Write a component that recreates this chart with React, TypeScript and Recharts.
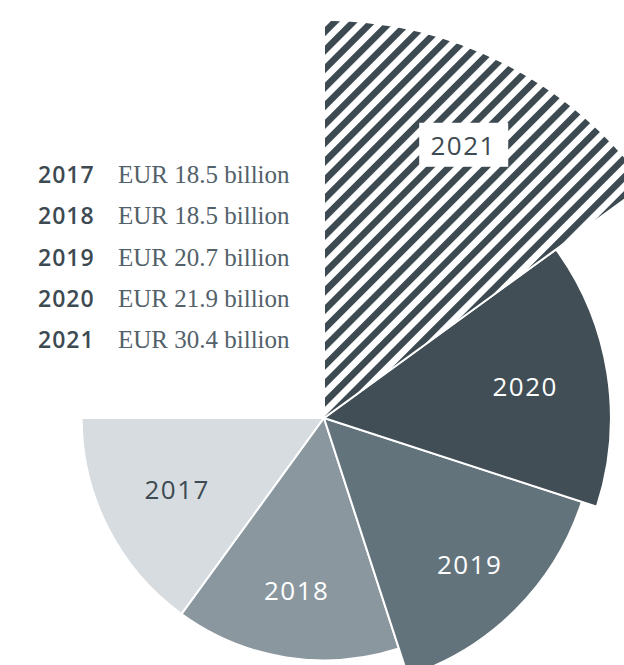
import React from "react";
import { PieChart, Pie, Cell } from "recharts";

// financing volume per year
const years = ["2017", "2018", "2019", "2020", "2021"];
const values = [18.5, 18.5, 20.7, 21.9, 30.4];
const legendTexts = ["EUR 18.5 billion", "EUR 18.5 billion", "EUR 20.7 billion", "EUR 21.9 billion", "EUR 30.4 billion"];

const colors = ["#d7dce0", "#8a979f", "#63737c", "#414e56", "url(#hatch2021)"];
const labelColors = ["#3d4a52", "#ffffff", "#ffffff", "#ffffff", "#3d4a52"];
// how far out (as a share of the slice radius) each label sits
const labelDepth = [0.68, 0.72, 0.76, 0.71, 0.77];

const PX_PER_BILLION = 13.1;
const CX = 324;
const CY = 418;
const RADIAN = Math.PI / 180;

const sliceData = years.map((y) => ({ name: y, share: 1 }));

const makeLabel = (i: number) => (props: any) => {
    if (props.index !== i) return null;
    const { cx, cy, midAngle, outerRadius } = props;
    const r = outerRadius * labelDepth[i];
    const x = cx + r * Math.cos(-midAngle * RADIAN);
    const y = cy + r * Math.sin(-midAngle * RADIAN) - (i === 0 ? 4 : 0);
    return (
        <g>
            {i === years.length - 1 && (
                <rect x={x - 44} y={y - 22} width={89} height={44} fill="#ffffff" />
            )}
            <text
                x={x}
                y={y}
                fill={labelColors[i]}
                textAnchor="middle"
                dominantBaseline="central"
                fontFamily="'Open Sans', sans-serif"
                fontSize={26}
                letterSpacing={1.5}
            >
                {years[i]}
            </text>
        </g>
    );
};

export default function App() {
    return (
        <div style={{ position: "absolute", left: 0, top: 0, width: 624, height: 665, overflow: "hidden", background: "#fff" }}>
            <PieChart width={624} height={665} margin={{ top: 0, right: 0, bottom: 0, left: 0 }}>
                <defs>
                    <pattern id="hatch2021" patternUnits="userSpaceOnUse" width={13.1} height={13.1} patternTransform="rotate(45)">
                        <rect x={0} y={0} width={13.1} height={13.1} fill="#ffffff" />
                        <rect x={0} y={0} width={6.6} height={13.1} fill="#3d4a52" />
                    </pattern>
                </defs>
                {values.map((v, i) => (
                    <Pie
                        key={years[i]}
                        data={sliceData}
                        dataKey="share"
                        nameKey="name"
                        cx={CX}
                        cy={CY}
                        innerRadius={0}
                        outerRadius={v * PX_PER_BILLION}
                        startAngle={180}
                        endAngle={450}
                        isAnimationActive={false}
                        labelLine={false}
                        label={makeLabel(i)}
                    >
                        {sliceData.map((d, j) => (
                            <Cell
                                key={d.name}
                                fill={j === i ? colors[i] : "none"}
                                stroke={j === i ? "#ffffff" : "none"}
                                strokeWidth={2}
                            />
                        ))}
                    </Pie>
                ))}
            </PieChart>
            <div style={{ position: "absolute", left: 38, top: 154, lineHeight: "41.3px" }}>
                {years.map((y, i) => (
                    <div key={y} style={{ display: "flex", whiteSpace: "nowrap" }}>
                        <span style={{ width: 80, fontFamily: "'Open Sans', sans-serif", fontWeight: 600, fontSize: 23, letterSpacing: 1, color: "#3d4a52" }}>
                            {y}
                        </span>
                        <span style={{ fontFamily: "'Liberation Serif', serif", fontSize: 25, color: "#53626a" }}>
                            {legendTexts[i]}
                        </span>
                    </div>
                ))}
            </div>
        </div>
    );
}
